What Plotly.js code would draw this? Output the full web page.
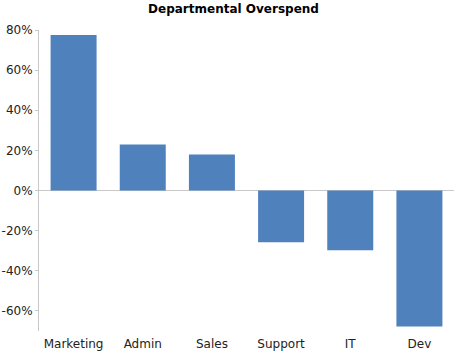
<!DOCTYPE html>
<html>
<head>
<meta charset="utf-8">
<script src="https://cdn.plot.ly/plotly-3.0.1.min.js"></script>
<style>html,body{margin:0;padding:0;background:#fff;}#chart{width:467px;height:360px;}</style>
</head>
<body>
<div id="chart"></div>
<script>
var departments = ["Marketing", "Admin", "Sales", "Support", "IT", "Dev"];
var overspendPct = [77.5, 23, 18, -25.8, -29.8, -67.8];
var yTickValues = [-60, -40, -20, 0, 20, 40, 60, 80];
var yTickLabels = ["-60%", "-40%", "-20%", "0%", "20%", "40%", "60%", "80%"];

var trace = {
  type: "bar",
  x: departments,
  y: overspendPct,
  marker: {color: "#4f81bd"},
  hoverinfo: "x+y"
};

var layout = {
  width: 467,
  height: 360,
  margin: {l: 39, r: 13, t: 30, b: 29, pad: 0},
  paper_bgcolor: "#fff",
  plot_bgcolor: "#fff",
  bargap: 0.335,
  showlegend: false,
  font: {family: "DejaVu Sans", size: 12, color: "#222"},
  title: {
    text: "<b>Departmental Overspend</b>",
    font: {family: "DejaVu Sans", size: 12, color: "#000"},
    x: 0.5, xref: "container", xanchor: "center",
    y: 1, yref: "container", yanchor: "top", pad: {t: 5}
  },
  xaxis: {
    showline: false, showgrid: false, zeroline: false, ticks: "",
    ticklabelstandoff: 4,
    tickfont: {family: "DejaVu Sans", size: 12, color: "#222"}
  },
  yaxis: {
    range: [-70, 80],
    tickmode: "array",
    tickvals: yTickValues,
    ticktext: yTickLabels,
    showgrid: false,
    showline: true, linecolor: "#c8c8c8", linewidth: 1,
    ticks: "outside", ticklen: 3, tickcolor: "#c8c8c8",
    zeroline: true, zerolinecolor: "#c8c8c8", zerolinewidth: 1,
    tickfont: {family: "DejaVu Sans", size: 12, color: "#222"}
  }
};

Plotly.newPlot("chart", [trace], layout, {displayModeBar: false, staticPlot: true});
</script>
</body>
</html>
